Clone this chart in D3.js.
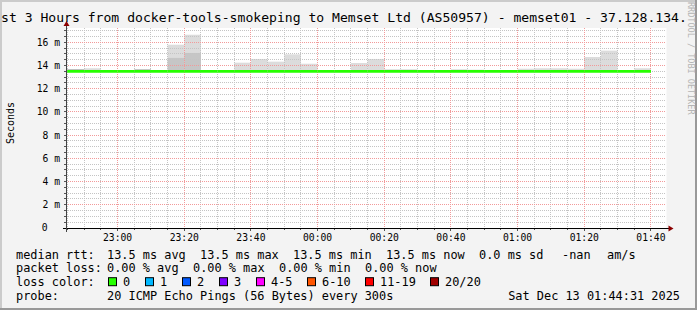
<!DOCTYPE html>
<html lang="en">
<head>
<meta charset="UTF-8">
<title>Smokeping - memset01</title>
<script src="https://d3js.org/d3.v7.min.js"></script>
<style>
  html, body { margin: 0; padding: 0; background: #f3f3f3; }
  svg { display: block; }
  text { font-family: "DejaVu Sans Mono", monospace; fill: #000; }
</style>
</head>
<body>
<svg id="chart" width="697" height="310"></svg>
<script>
/* ---- data: one value per 5 minute bin (bin start) ---- */
const binStart = ["22:40","22:45","22:50","22:55","23:00","23:05","23:10","23:15","23:20","23:25",
                  "23:30","23:35","23:40","23:45","23:50","23:55","00:00","00:05","00:10","00:15",
                  "00:20","00:25","00:30","00:35","00:40","00:45","00:50","00:55","01:00","01:05",
                  "01:10","01:15","01:20","01:25","01:30","01:35"];

// median rtt (ms)
const median = [13.5,13.5,13.5,13.5,13.5,13.5,13.5,13.5,13.5,13.5,
                13.5,13.5,13.5,13.5,13.5,13.5,13.5,13.5,13.5,13.5,
                13.5,13.5,13.5,13.5,13.5,13.5,13.5,13.5,13.5,13.5,
                13.5,13.5,13.5,13.5,13.5,13.5];

// smoke: top of the light, middle and dark bands (ms)
const smokeMax = [13.66,13.66,13.77,13.5,13.5,13.62,13.5,15.80,16.66,13.5,
                  13.5,14.25,14.57,14.34,14.97,14.16,13.55,13.5,14.22,14.57,
                  13.62,13.62,13.5,13.5,13.62,13.65,13.5,13.5,13.73,13.77,
                  13.77,13.73,14.74,15.29,13.5,13.77];
const smokeMid = [13.5,13.5,13.5,13.5,13.5,13.5,13.5,14.66,15.09,13.5,
                  13.5,13.58,13.58,13.58,13.58,13.58,13.5,13.5,13.58,13.58,
                  13.5,13.5,13.5,13.5,13.5,13.5,13.5,13.5,13.5,13.62,
                  13.62,13.5,13.6,13.6,13.5,13.5];
const smokeLow = [13.66,13.66,13.5,13.5,13.5,13.66,13.5,13.5,13.5,13.5,
                  13.5,13.5,13.5,13.5,13.5,13.5,13.5,13.5,13.5,13.5,
                  13.64,13.64,13.5,13.5,13.64,13.6,13.5,13.5,13.5,13.62,
                  13.62,13.5,13.5,13.5,13.5,13.5];

// lost pings per bin (of 20)
const lossCount = [0,0,0,0,0,0,0,0,0,0, 0,0,0,0,0,0,0,0,0,0,
                   0,0,0,0,0,0,0,0,0,0, 0,0,0,0,0,0];

const yTicks = [0, 2, 4, 6, 8, 10, 12, 14, 16];
const yTickLabels = ["0", "2 m", "4 m", "6 m", "8 m", "10 m", "12 m", "14 m", "16 m"];

const lossLabels = ["0", "1", "2", "3", "4-5", "6-10", "11-19", "20/20"];
const lossLimits = [0, 1, 2, 3, 5, 10, 19, 20];
const lossColors = ["#26ff00", "#00b8ff", "#0059ff", "#7e00ff", "#ff00ff", "#ff5500", "#ff0000", "#a00000"];

const titleText = "st 3 Hours from docker-tools-smokeping to Memset Ltd (AS50957) - memset01 - 37.128.134.";

/* ---- geometry ---- */
const W = 697, H = 310;
const pLeft = 66.5, pRight = 666.5, pBottom = 228, pTop = 28;

const parseBin = s => {
    const [h, m] = s.split(':').map(Number);
    return new Date(2025, 11, h >= 12 ? 12 : 13, h, m);
};

const x = d3.scaleTime()
    .domain([new Date(2025, 11, 12, 22, 44, 40), new Date(2025, 11, 13, 1, 44, 40)])
    .range([pLeft, pRight]);
const y = d3.scaleLinear().domain([0, 17.24]).range([pBottom, pTop]);

const svg = d3.select('#chart');
const defs = svg.append('defs');

/* 1px on / 1px off dot patterns for the grid */
function dotPattern(id, color, horizontal) {
    const p = defs.append('pattern').attr('id', id)
        .attr('patternUnits', 'userSpaceOnUse')
        .attr('width', horizontal ? 2 : 1).attr('height', horizontal ? 1 : 2);
    p.append('rect').attr('width', 1).attr('height', 1).attr('fill', color);
}
dotPattern('hgray', '#c4c4c4', true);
dotPattern('vgray', '#c4c4c4', false);
dotPattern('hred', '#f29a9a', true);
dotPattern('vred', '#f29a9a', false);

/* background + frame */
svg.append('rect').attr('width', W).attr('height', H).attr('fill', '#f3f3f3');
svg.append('rect').attr('x', 0).attr('y', 0).attr('width', W).attr('height', 2).attr('fill', '#cbcbcb');
svg.append('rect').attr('x', 0).attr('y', 0).attr('width', 2).attr('height', H).attr('fill', '#cbcbcb');
svg.append('rect').attr('x', 0).attr('y', H - 2).attr('width', W).attr('height', 2).attr('fill', '#999');
svg.append('rect').attr('x', W - 2).attr('y', 0).attr('width', 2).attr('height', H).attr('fill', '#999');

svg.append('rect')
    .attr('x', pLeft).attr('y', pTop)
    .attr('width', pRight - pLeft).attr('height', pBottom - pTop)
    .attr('fill', '#fff');

defs.append('clipPath').attr('id', 'plotclip')
  .append('rect')
    .attr('x', pLeft).attr('y', pTop)
    .attr('width', pRight - pLeft).attr('height', pBottom - pTop);

/* smoke */
const bins = binStart.map((s, i) => {
    const t0 = parseBin(s);
    return { t0, t1: d3.timeMinute.offset(t0, 5), med: median[i],
             max: smokeMax[i], mid: smokeMid[i], low: smokeLow[i], loss: lossCount[i] };
});

const smoke = svg.append('g').attr('clip-path', 'url(#plotclip)');
function drawSmoke(key, color) {
    smoke.append('g').selectAll('rect')
        .data(bins.filter(d => d[key] > d.med))
        .join('rect')
        .attr('x', d => x(d.t0))
        .attr('width', d => x(d.t1) - x(d.t0))
        .attr('y', d => y(d[key]))
        .attr('height', d => y(d.med) - y(d[key]))
        .attr('fill', color);
}
drawSmoke('max', '#dcdcdc');
drawSmoke('mid', '#c6c6c6');
drawSmoke('low', '#8a8a8a');

/* grid (dotted, drawn over the smoke) */
const grid = svg.append('g').attr('shape-rendering', 'crispEdges');
const minutes5 = d3.timeMinute.every(5).range(x.domain()[0], x.domain()[1]);
const minorX = minutes5.filter(d => d.getMinutes() % 20 !== 0);
const majorX = minutes5.filter(d => d.getMinutes() % 20 === 0);
const minorY = d3.range(0.5, 17.24, 0.5).filter(v => v % 2 !== 0);
const majorY = yTicks.filter(v => v > 0);
const gx0 = Math.ceil(pLeft), gx1 = Math.floor(pRight);

function vLines(data, pat) {
    grid.append('g').selectAll('rect').data(data).join('rect')
        .attr('x', d => Math.round(x(d) - 0.5)).attr('width', 1)
        .attr('y', pTop).attr('height', pBottom - pTop)
        .attr('fill', `url(#${pat})`);
}
function hLines(data, pat) {
    grid.append('g').selectAll('rect').data(data).join('rect')
        .attr('x', gx0).attr('width', gx1 - gx0)
        .attr('y', d => Math.round(y(d) - 0.5)).attr('height', 1)
        .attr('fill', `url(#${pat})`);
}
vLines(minorX, 'vgray');
hLines(minorY, 'hgray');
vLines(majorX, 'vred');
hLines(majorY, 'hred');

/* median line coloured by loss */
const lossColor = n => lossColors[lossLimits.findIndex(l => n <= l)];
svg.append('g').attr('clip-path', 'url(#plotclip)')
  .selectAll('line')
    .data(bins)
    .join('line')
    .attr('x1', d => x(d.t0)).attr('x2', d => x(d.t1))
    .attr('y1', d => y(d.med)).attr('y2', d => y(d.med))
    .attr('stroke', d => lossColor(d.loss))
    .attr('stroke-width', 2.6);

/* axes */
const snap = v => Math.round(v - 0.5) + 0.5;
const axes = svg.append('g').attr('shape-rendering', 'crispEdges');
axes.append('g').selectAll('line').data(minorY.concat(majorY)).join('line')
    .attr('x1', pLeft - 3).attr('x2', pLeft)
    .attr('y1', d => snap(y(d))).attr('y2', d => snap(y(d)))
    .attr('stroke', '#555');
axes.append('g').selectAll('line').data(minutes5).join('line')
    .attr('x1', d => snap(x(d))).attr('x2', d => snap(x(d)))
    .attr('y1', pBottom).attr('y2', d => d.getMinutes() % 20 === 0 ? pBottom + 3 : pBottom + 2)
    .attr('stroke', '#555');

axes.append('line')
    .attr('x1', pLeft - 4).attr('x2', pRight + 4)
    .attr('y1', pBottom + 0.5).attr('y2', pBottom + 0.5)
    .attr('stroke', '#000');
axes.append('line')
    .attr('x1', pLeft).attr('x2', pLeft)
    .attr('y1', pBottom + 4).attr('y2', pTop - 4)
    .attr('stroke', '#444');

svg.append('path')
    .attr('d', `M${pRight + 2},${pBottom - 2.5}L${pRight + 7},${pBottom + 0.5}L${pRight + 2},${pBottom + 3.5}Z`)
    .attr('fill', '#8b0000');
svg.append('path')
    .attr('d', `M${pLeft - 3},${pTop - 2}L${pLeft},${pTop - 7}L${pLeft + 3},${pTop - 2}Z`)
    .attr('fill', '#8b0000');

/* axis labels */
svg.append('g').selectAll('text')
    .data(yTicks)
    .join('text')
    .attr('x', (d, i) => yTickLabels[i].includes('m') ? 60 : 47.5)
    .attr('y', d => y(d))
    .attr('dy', '0.35em')
    .attr('text-anchor', 'end')
    .style('font-size', '9.7px')
    .text((d, i) => yTickLabels[i]);

svg.append('g').selectAll('text')
    .data(majorX)
    .join('text')
    .attr('x', d => x(d))
    .attr('y', 241)
    .attr('text-anchor', 'middle')
    .style('font-size', '9.7px')
    .text(d3.timeFormat('%H:%M'));

svg.append('text')
    .attr('transform', 'translate(13.5,123) rotate(-90)')
    .attr('text-anchor', 'middle')
    .style('font-size', '10px')
    .text('Seconds');

/* title + watermark */
svg.append('text')
    .attr('x', 1).attr('y', 22)
    .style('font-size', '13.1px')
    .text(titleText);

svg.append('text')
    .attr('transform', 'translate(687.5,2) rotate(90)')
    .style('font-size', '8.5px')
    .style('fill', '#b4b4b4')
    .text('RRDTOOL / TOBI OETIKER');

/* legend */
const legend = svg.append('g').style('font-size', '11.9px');
const put = (txt, px, py, anchor) => legend.append('text')
    .attr('x', px).attr('y', py).attr('dy', '0.35em')
    .attr('text-anchor', anchor || 'start').text(txt);

const rows = [254.6, 268.3, 282.2, 296];
put('median rtt:', 16, rows[0]);
[['13.5 ms avg', 107], ['13.5 ms max', 200], ['13.5 ms min', 293], ['13.5 ms now', 386],
 ['0.0 ms sd', 479], ['-nan', 562], ['am/s', 607]].forEach(([t, px]) => put(t, px, rows[0]));

put('packet loss:', 16, rows[1]);
[['0.00 % avg', 107], ['0.00 % max', 193], ['0.00 % min', 279], ['0.00 % now', 365]]
    .forEach(([t, px]) => put(t, px, rows[1]));

put('loss color:', 16, rows[2]);
let lx = 108.5;
lossLabels.forEach((lab, i) => {
    legend.append('rect')
        .attr('x', lx).attr('y', rows[2] - 4.5)
        .attr('width', 8).attr('height', 8)
        .attr('fill', lossColors[i]).attr('stroke', '#000');
    put(lab, lx + 14.5, rows[2]);
    lx += 30 + 7 * lab.length;
});

put('probe:', 16, rows[3]);
put('20 ICMP Echo Pings (56 Bytes) every 300s', 107, rows[3]);
put('Sat Dec 13 01:44:31 2025', 680, rows[3], 'end');
</script>
</body>
</html>
